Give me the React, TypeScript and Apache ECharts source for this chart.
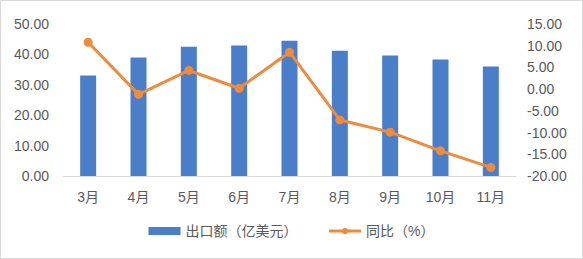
import React, { useEffect, useRef } from "react";
import * as echarts from "echarts";

const months = ["3月", "4月", "5月", "6月", "7月", "8月", "9月", "10月", "11月"];
const exportValues = [33.1, 39.0, 42.5, 42.9, 44.5, 41.2, 39.6, 38.3, 36.0];
const yoyValues = [10.8, -1.2, 4.3, 0.2, 8.5, -7.1, -9.9, -14.2, -18.0];
const barName = "出口额（亿美元）";
const lineName = "同比（%）";

const FONT = "'Liberation Sans', Arial, 'Noto Sans CJK SC', sans-serif";
const TXT = "#595959";

export default function App() {
  const ref = useRef<HTMLDivElement>(null);
  useEffect(() => {
    if (!ref.current) return;
    const chart = echarts.init(ref.current, undefined, { renderer: "svg" });
    chart.setOption({
      animation: false,
      textStyle: { fontFamily: FONT },
      grid: { left: 62, right: 66, top: 23, bottom: 82, containLabel: false },
      legend: {
        bottom: 15,
        left: "center",
        itemGap: 30,
        itemWidth: 32,
        itemHeight: 8,
        textStyle: { color: TXT, fontSize: 14, fontFamily: FONT },
        data: [
          { name: barName, icon: "rect" },
          { name: lineName, lineStyle: { width: 3 } },
        ],
      },
      xAxis: {
        type: "category",
        data: months,
        axisLine: { lineStyle: { color: "#d9d9d9", width: 1 } },
        axisTick: { show: false },
        axisLabel: { color: TXT, fontSize: 14, margin: 14, fontFamily: FONT },
      },
      yAxis: [
        {
          type: "value",
          min: 0,
          max: 50,
          interval: 10,
          splitLine: { show: false },
          axisLine: { show: false },
          axisTick: { show: false },
          axisLabel: {
            color: TXT,
            fontSize: 14,
            margin: 14,
            fontFamily: FONT,
            formatter: (v: number) => v.toFixed(2),
          },
        },
        {
          type: "value",
          min: -20,
          max: 15,
          interval: 5,
          splitLine: { show: false },
          axisLine: { show: false },
          axisTick: { show: false },
          axisLabel: {
            color: TXT,
            fontSize: 14,
            margin: 11,
            fontFamily: FONT,
            formatter: (v: number) => v.toFixed(2),
          },
        },
      ],
      series: [
        {
          name: barName,
          type: "bar",
          data: exportValues,
          barWidth: 16,
          itemStyle: { color: "#4A7EC8" },
          yAxisIndex: 0,
        },
        {
          name: lineName,
          type: "line",
          data: yoyValues,
          yAxisIndex: 1,
          symbol: "circle",
          symbolSize: 9,
          lineStyle: { color: "#ED8B3F", width: 3 },
          itemStyle: { color: "#ED8B3F" },
        },
      ],
    });
    return () => chart.dispose();
  }, []);
  return (
    <div
      ref={ref}
      style={{
        position: "fixed",
        left: 0,
        top: 0,
        width: 583,
        height: 259,
        boxSizing: "border-box",
        border: "1px solid #d9d9d9",
        background: "#fff",
      }}
    />
  );
}
